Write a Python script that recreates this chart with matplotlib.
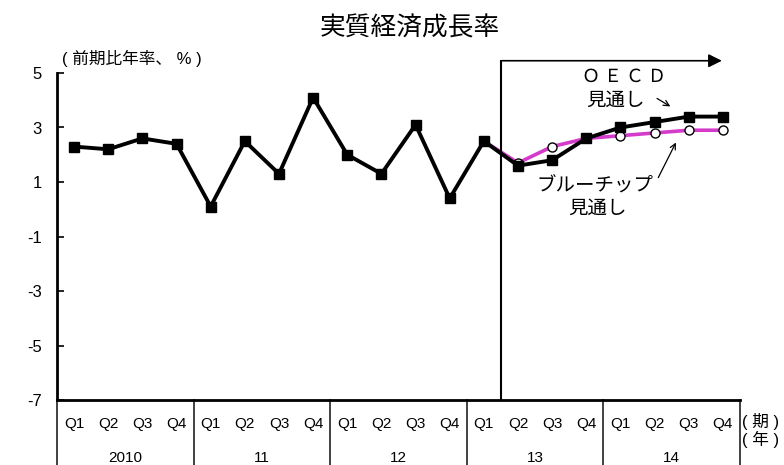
import matplotlib.pyplot as plt
import numpy as np

plt.rcParams['font.family'] = ['Liberation Sans', 'Noto Sans CJK JP', 'DejaVu Sans']

quarters = ['Q1', 'Q2', 'Q3', 'Q4'] * 5
years = ['2010', '11', '12', '13', '14']

# actual growth 2010Q1-2013Q1, then OECD outlook to 2014Q4
oecd = [2.3, 2.2, 2.6, 2.4, 0.1, 2.5, 1.3, 4.1, 2.0, 1.3, 3.1, 0.4, 2.5,
        1.6, 1.8, 2.6, 3.0, 3.2, 3.4, 3.4]
# blue chip outlook from 2013Q1
bluechip = [2.5, 1.7, 2.3, 2.6, 2.7, 2.8, 2.9, 2.9]

x = np.arange(len(oecd))
x_bc = np.arange(12, 12 + len(bluechip))

fig = plt.figure(figsize=(7.84, 4.65), dpi=100)
ax = fig.add_axes([57 / 784, 65 / 465, 683 / 784, 327 / 465])

ax.plot(x_bc, bluechip, color='#d53bcb', lw=2.6, zorder=2)
ax.plot(x_bc[1:], bluechip[1:], ls='none', marker='o', ms=6.5,
        mfc='white', mec='black', mew=1.0, zorder=3)
ax.plot(x, oecd, color='black', lw=2.8, marker='s', ms=7, zorder=4)

ax.set_xlim(-0.5, 19.5)
ax.set_ylim(-7, 5)
ax.set_yticks([5, 3, 1, -1, -3, -5, -7])
ax.set_yticklabels(['5', '3', '1', '-1', '-3', '-5', '-7'], fontsize=12)
ax.tick_params(axis='y', direction='in', length=5, width=1.2, pad=11)
ax.set_xticks([])
for s in ['top', 'right']:
    ax.spines[s].set_visible(False)
ax.spines['left'].set_linewidth(2)
ax.spines['bottom'].set_linewidth(2)

# category table below the axis
tr = ax.get_xaxis_transform()
for i, q in enumerate(quarters):
    ax.text(i, -0.073, q, transform=tr, ha='center', va='center', fontsize=11)
for j, yr in enumerate(years):
    ax.text(4 * j + 1.5, -0.178, yr, transform=tr, ha='center', va='center', fontsize=11)
for b in [-0.5, 3.5, 7.5, 11.5, 15.5, 19.5]:
    ax.plot([b, b], [0, -0.21], transform=tr, color='#333333', lw=1.3, clip_on=False)
ax.text(19.55, -0.065, '( 期 )', transform=tr, ha='left', va='center', fontsize=12)
ax.text(19.55, -0.12, '( 年 )', transform=tr, ha='left', va='center', fontsize=12)

# forecast period marker
ax.plot([12.5, 12.5], [-7, 5.45], color='black', lw=1.5, clip_on=False)
ax.annotate('', xy=(19.05, 5.45), xytext=(12.45, 5.45), annotation_clip=False,
            arrowprops=dict(arrowstyle='-|>', color='black', lw=1.2, mutation_scale=20))

cjk = ['Noto Sans CJK JP', 'DejaVu Sans']
ax.text(16.1, 4.85, 'Ｏ Ｅ Ｃ Ｄ', ha='center', va='center', fontsize=13, family=cjk)
ax.text(15.84, 4.0, '見通し', ha='center', va='center', fontsize=14, family=cjk)
ax.annotate('', xy=(17.53, 3.72), xytext=(17.0, 4.12),
            arrowprops=dict(arrowstyle='->', color='black', lw=0.9))
ax.text(15.25, 0.85, 'ブルーチップ', ha='center', va='center', fontsize=14, family=cjk)
ax.text(15.34, 0.05, '見通し', ha='center', va='center', fontsize=14, family=cjk)
ax.annotate('', xy=(17.66, 2.54), xytext=(17.07, 1.07),
            arrowprops=dict(arrowstyle='->', color='black', lw=0.9))

fig.text(410 / 784, 1 - 28 / 465, '実質経済成長率', ha='center', va='center',
         fontsize=18.5, family=cjk)
fig.text(62 / 784, 1 - 58 / 465, '( 前期比年率、 % )', ha='left', va='center',
         fontsize=12)

fig.savefig('out.png', dpi=100)
